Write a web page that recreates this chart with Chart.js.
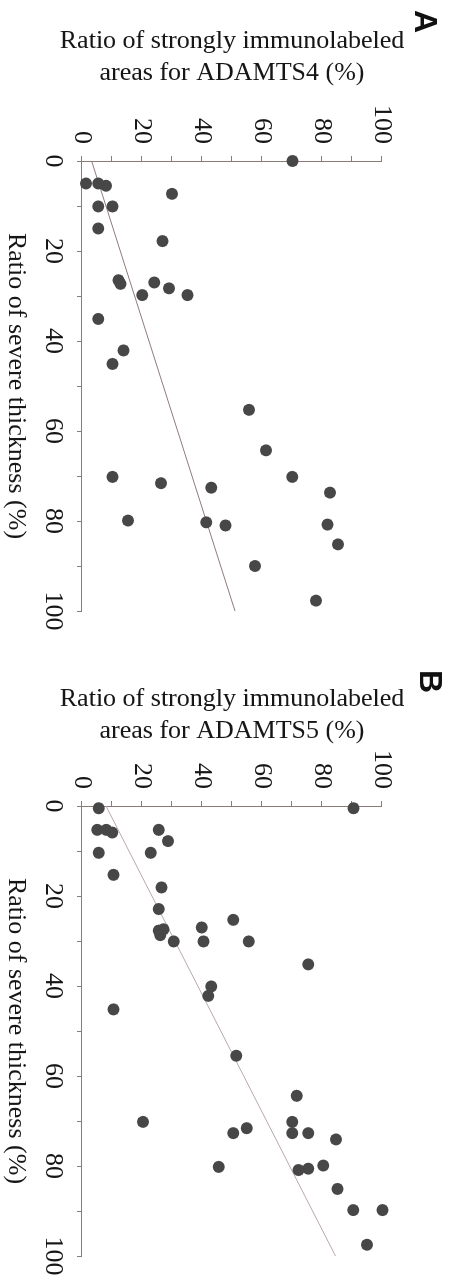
<!DOCTYPE html>
<html><head><meta charset="utf-8">
<script src="https://cdn.jsdelivr.net/npm/chart.js@4"></script>
<style>
html,body{margin:0;padding:0;background:#fff;width:451px;height:1285px;overflow:hidden;}
.panel{position:absolute;left:0;top:0;width:640px;height:451px;transform-origin:0 0;}
#pa{transform:translate(451px,0px) rotate(90deg);}
#pb{transform:translate(451px,645px) rotate(90deg);}
canvas{display:block;}
.lbl{position:absolute;font-family:"Liberation Sans",Arial,sans-serif;font-weight:bold;font-size:32px;line-height:32px;color:#111;}
</style></head>
<body>
<div class="panel" id="pa"><canvas id="ca" width="640" height="451"></canvas><div class="lbl" style="left:10px;top:9px">A</div></div>
<div class="panel" id="pb"><canvas id="cb" width="640" height="451"></canvas><div class="lbl" style="left:25px;top:4px">B</div></div>
<script>
// ---- data ----
const tickLabels = [0, 20, 40, 60, 80, 100];
const xTitle = "Ratio of severe thickness (%)";
const yTitleA = ["Ratio of strongly immunolabeled", "areas for ADAMTS4 (%)"];
const yTitleB = ["Ratio of strongly immunolabeled", "areas for ADAMTS5 (%)"];

const thicknessA = [0, 5, 5, 5.5, 7.3, 10.1, 10.1, 15, 17.8, 26.5, 27.3, 27, 28.3, 29.8, 29.8, 35.1, 42.1, 45.1, 55.3, 64.3, 70.2, 71.6, 72.6, 70.2, 73.7, 79.9, 80.3, 81, 80.8, 85.2, 90, 97.7];
const adamts4A   = [70.2, 1.3, 5.4, 8, 30, 5.4, 10.2, 5.4, 26.8, 12.2, 12.8, 24.1, 29, 20.1, 35.2, 5.4, 13.8, 10.2, 55.7, 61.3, 10.2, 26.3, 43.1, 70.1, 82.7, 15.3, 41.4, 47.8, 81.8, 85.3, 57.7, 78];
const fitA_x = [0, 100];
const fitA_y = [3.2, 51];

const thicknessB = [0.5, 0.5, 5.3, 5.3, 5.9, 5.3, 7.8, 10.4, 10.4, 15.3, 18.1, 22.9, 25.3, 27.7, 27.4, 28.7, 27, 30.1, 30.1, 30.1, 35.2, 40.1, 42.2, 45.2, 55.5, 64.4, 70.2, 70.2, 72.7, 71.6, 72.7, 72.7, 74.1, 80.2, 80.9, 80.6, 79.9, 85.1, 89.8, 89.8, 97.5];
const adamts5B   = [5.6, 90.5, 5.1, 8.1, 10.1, 25.6, 28.7, 5.6, 22.9, 10.5, 26.5, 25.6, 50.4, 25.6, 27.2, 26.1, 39.9, 30.6, 40.5, 55.6, 75.4, 43.1, 42.1, 10.5, 51.4, 71.6, 20.3, 70.1, 50.4, 54.9, 70.1, 75.4, 84.7, 45.6, 72.2, 75.4, 80.4, 85.2, 90.4, 100.2, 95];
const fitB_x = [0, 100];
const fitB_y = [8, 84.5];

// ---- styles ----
const FONT = '"Liberation Serif", "Times New Roman", serif';
const TXT = '#161616';
const AXIS = '#8c7a77';
const DOT = '#474747';

function pts(xs, ys) { return xs.map((x, i) => ({x: x, y: ys[i]})); }

function makeChart(id, xs, ys, fx, fy, yTitle, titlePad, fitColor) {
  const tickCb = v => tickLabels.includes(v) ? String(v) : '';
  const axisCommon = {
    type: 'linear', min: 0, max: 100,
    ticks: {stepSize: 10, autoSkip: false, maxRotation: 0, callback: tickCb,
            font: {family: FONT, size: 26}, color: TXT},
    grid: {display: true, drawOnChartArea: false, drawTicks: true, tickLength: 5, color: AXIS, lineWidth: 1},
    border: {display: true, color: AXIS, width: 1}
  };
  new Chart(document.getElementById(id), {
    type: 'scatter',
    data: {datasets: [
      {data: pts(fx, fy), showLine: true, borderColor: fitColor, borderWidth: 1, pointRadius: 0, clip: false, order: 2},
      {data: pts(xs, ys), backgroundColor: DOT, borderWidth: 0, pointRadius: 6, pointHoverRadius: 6, clip: false, order: 1}
    ]},
    options: {
      responsive: false, animation: false, devicePixelRatio: 1,
      layout: {padding: {left: 0, top: 69, right: 29, bottom: 0}},
      plugins: {legend: {display: false}, tooltip: {enabled: false}},
      scales: {
        x: Object.assign({}, axisCommon, {
          position: 'bottom',
          ticks: Object.assign({}, axisCommon.ticks, {padding: 9}),
          title: {display: true, text: xTitle, color: TXT, font: {family: FONT, size: 26, lineHeight: '32px'}, padding: {top: 0, bottom: 0}},
          afterFit: s => { s.height = 82; }
        }),
        y: Object.assign({}, axisCommon, {
          position: 'left',
          ticks: Object.assign({}, axisCommon.ticks, {padding: 12}),
          title: {display: true, text: yTitle, color: TXT, font: {family: FONT, size: 26, lineHeight: '32px'}, padding: {top: titlePad, bottom: 0}},
          afterFit: s => { s.width = 161; }
        })
      }
    }
  });
}

makeChart('ca', thicknessA, adamts4A, fitA_x, fitA_y, yTitleA, 25, '#8e7c79');
makeChart('cb', thicknessB, adamts5B, fitB_x, fitB_y, yTitleB, 38, '#b8a9a5');
</script>
</body></html>
